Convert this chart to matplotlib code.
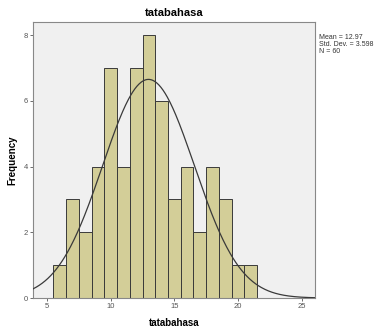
import numpy as np
import matplotlib
matplotlib.use("Agg")
import matplotlib.pyplot as plt

values = [6, 7, 8, 9, 10, 11, 12, 13, 14, 15, 16, 17, 18, 19, 20, 21]
counts = [1, 3, 2, 4, 7, 4, 7, 8, 6, 3, 4, 2, 4, 3, 1, 1]
mean = 12.97
std = 3.598
n = 60
xticks = [5, 10, 15, 20, 25]
yticks = [0, 2, 4, 6, 8]

plt.rcParams['font.family'] = ['Liberation Sans', 'DejaVu Sans']
fig = plt.figure(figsize=(3.76, 3.29), dpi=100)
ax = fig.add_axes([0.0878, 0.0942, 0.750, 0.839])
ax.set_facecolor('#f0f0f0')
ax.bar(values, counts, width=1.0, color='#d3ce98', edgecolor='#3a3a3a', linewidth=0.7, zorder=2)
xs = np.linspace(3.9, 26.05, 400)
ys = n * 1.0 * np.exp(-0.5 * ((xs - mean) / std) ** 2) / (std * np.sqrt(2 * np.pi))
ax.plot(xs, ys, color='#3a3a3a', linewidth=0.9, zorder=3)
ax.set_xlim(3.9, 26.05)
ax.set_ylim(0, 8.4)
ax.set_xticks(xticks)
ax.set_yticks(yticks)
ax.tick_params(labelsize=5.5, length=2, width=0.6, colors='#555555', pad=1.5)
for s in ax.spines.values():
    s.set_color('#888888')
    s.set_linewidth(0.8)
ax.set_title('tatabahasa', fontsize=8, fontweight='bold', pad=4)
ax.set_xlabel('tatabahasa', fontsize=7, fontweight='bold', labelpad=6)
ax.set_ylabel('Frequency', fontsize=7, fontweight='bold', labelpad=5)
fig.text(0.848, 0.897, f'Mean = {mean}\nStd. Dev. = {std}\nN = {n}', fontsize=5, va='top', ha='left', linespacing=1.0, color='#333333')
fig.savefig('out.png', dpi=100)
